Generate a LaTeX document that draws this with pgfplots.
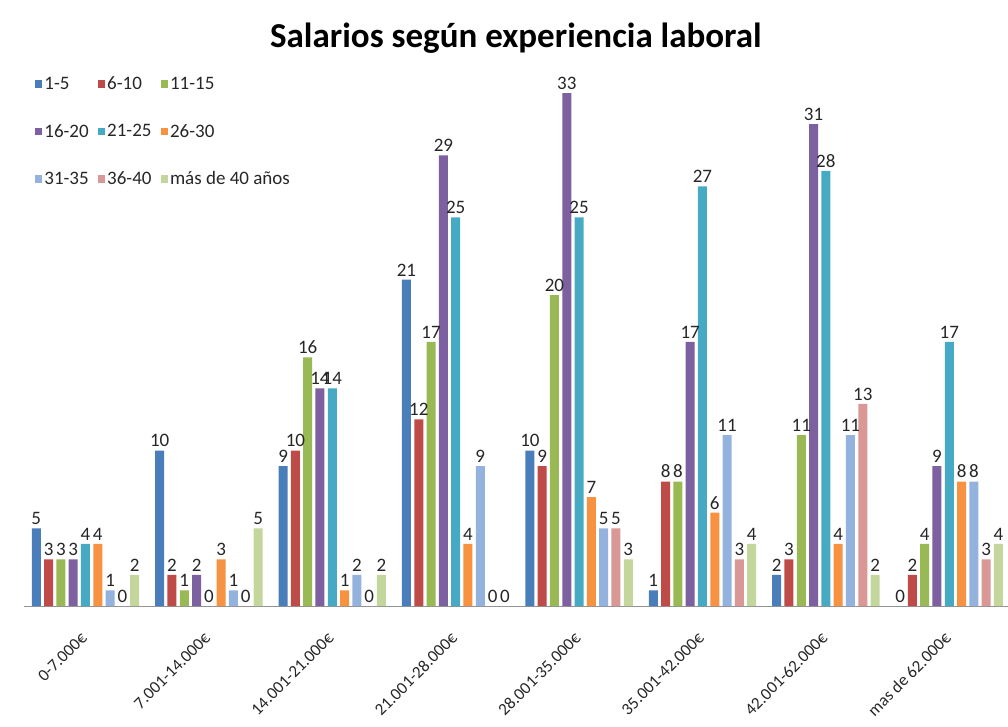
\documentclass[border=0pt]{standalone}
\usepackage{fontspec}
\setmainfont{Carlito}
\usepackage{pgfplots}
\pgfplotsset{compat=1.18}
\definecolor{c1}{HTML}{4A7EBB}
\definecolor{c2}{HTML}{BE4B48}
\definecolor{c3}{HTML}{98B954}
\definecolor{c4}{HTML}{7D60A0}
\definecolor{c5}{HTML}{46AAC5}
\definecolor{c6}{HTML}{F69240}
\definecolor{c7}{HTML}{93B3DE}
\definecolor{c8}{HTML}{D99795}
\definecolor{c9}{HTML}{C3D69B}
\begin{document}
\begin{tikzpicture}
\useasboundingbox (-23.8pt,-121pt) rectangle (984.2pt,606pt);
\begin{axis}[
  scale only axis, width=984.2pt, height=544pt,
  xmin=-0.5, xmax=7.476, ymin=0, ymax=35,
  ybar=3.3pt, bar width=9pt,
  axis x line*=bottom, axis y line=none,
  x axis line style={draw=gray!85, line width=1pt},
  xtick={0,...,7}, ytick=\empty, major tick length=0pt,
  xticklabels={0-7.000€,7.001-14.000€,14.001-21.000€,21.001-28.000€,28.001-35.000€,35.001-42.000€,42.001-62.000€,mas de 62.000€},
  xticklabel style={font=\fontsize{17}{17}\selectfont, text=black!85, anchor=east, xshift=1pt, yshift=-27pt, rotate=45},
  clip=false,
  /pgf/number format/assume math mode=true,
  nodes near coords,
  every node near coord/.append style={font=\fontsize{19}{19}\selectfont, text=black!85},
  title={\textbf{Salarios según experiencia laboral}},
  title style={at={(axis description cs:0.5,1)}, anchor=base, yshift=8pt, font=\fontsize{35}{35}\selectfont},
  legend columns=3,
  legend cell align=left,
  legend style={at={(axis description cs:0.008,0.98)}, anchor=north west, draw=none, fill=none,
    font=\fontsize{19}{19}\selectfont, text=black!85,
    /tikz/every even column/.append style={column sep=7pt}, /tikz/row sep=29pt},
  legend image code/.code={\fill[#1] (0pt,-3.5pt) rectangle (7.5pt,4pt);},
]
\addplot[fill=c1, draw=none] coordinates {(0,5) (1,10) (2,9) (3,21) (4,10) (5,1) (6,2) (7,0)};
\addplot[fill=c2, draw=none] coordinates {(0,3) (1,2) (2,10) (3,12) (4,9) (5,8) (6,3) (7,2)};
\addplot[fill=c3, draw=none] coordinates {(0,3) (1,1) (2,16) (3,17) (4,20) (5,8) (6,11) (7,4)};
\addplot[fill=c4, draw=none] coordinates {(0,3) (1,2) (2,14) (3,29) (4,33) (5,17) (6,31) (7,9)};
\addplot[fill=c5, draw=none] coordinates {(0,4) (1,0) (2,14) (3,25) (4,25) (5,27) (6,28) (7,17)};
\addplot[fill=c6, draw=none] coordinates {(0,4) (1,3) (2,1) (3,4) (4,7) (5,6) (6,4) (7,8)};
\addplot[fill=c7, draw=none] coordinates {(0,1) (1,1) (2,2) (3,9) (4,5) (5,11) (6,11) (7,8)};
\addplot[fill=c8, draw=none] coordinates {(0,0) (1,0) (2,0) (3,0) (4,5) (5,3) (6,13) (7,3)};
\addplot[fill=c9, draw=none] coordinates {(0,2) (1,5) (2,2) (3,0) (4,3) (5,4) (6,2) (7,4)};
\legend{1-5,6-10,11-15,16-20,21-25,26-30,31-35,36-40,más de 40 años}
\end{axis}
\end{tikzpicture}
\end{document}
